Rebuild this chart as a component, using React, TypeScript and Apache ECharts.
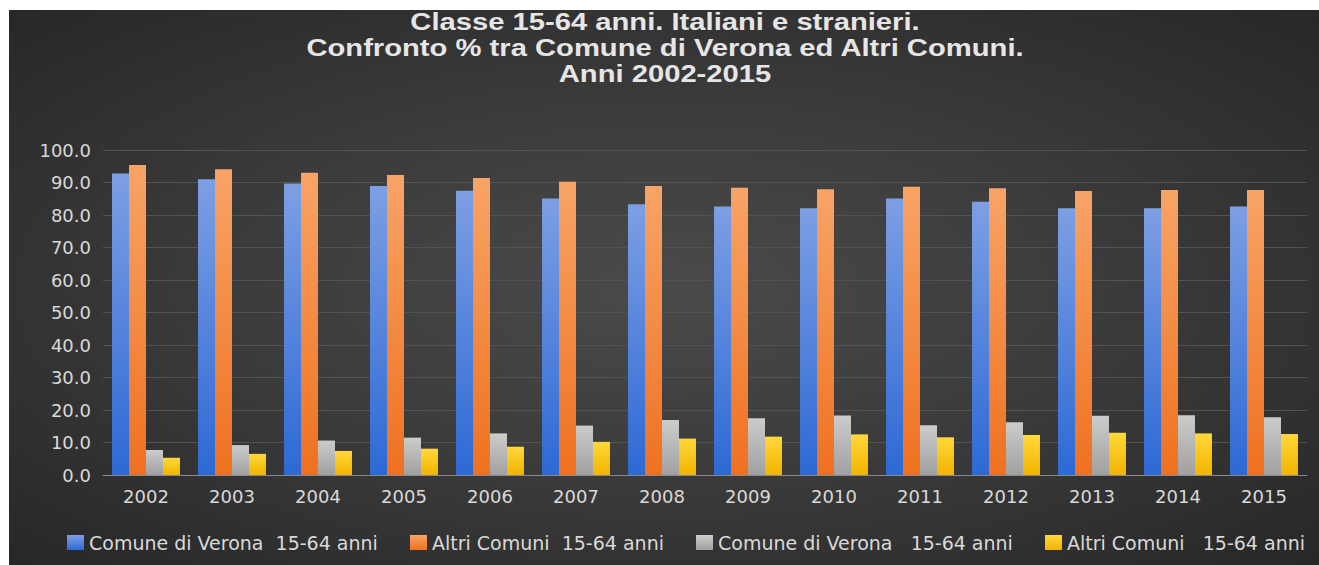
import React, { useEffect, useRef } from "react";
import * as echarts from "echarts";

const years = ["2002","2003","2004","2005","2006","2007","2008","2009","2010","2011","2012","2013","2014","2015"];
const veronaTotal = [92.8, 91.0, 89.7, 88.9, 87.5, 85.1, 83.3, 82.6, 82.1, 85.1, 84.1, 82.1, 82.1, 82.6];
const altriTotal = [95.4, 94.1, 93.0, 92.3, 91.4, 90.2, 88.9, 88.4, 87.9, 88.7, 88.2, 87.4, 87.7, 87.7];
const veronaStranieri = [7.7, 9.2, 10.6, 11.5, 12.8, 15.2, 16.9, 17.5, 18.3, 15.3, 16.2, 18.2, 18.4, 17.8];
const altriStranieri = [5.3, 6.5, 7.4, 8.1, 8.7, 10.2, 11.2, 11.8, 12.5, 11.6, 12.3, 13.0, 12.8, 12.6];
const seriesNames = [
  "Comune di Verona  15-64 anni",
  "Altri Comuni  15-64 anni",
  "Comune di Verona   15-64 anni",
  "Altri Comuni   15-64 anni",
];
const titleLines = [
  "Classe 15-64 anni. Italiani e stranieri.",
  "Confronto % tra Comune di Verona ed Altri Comuni.",
  "Anni 2002-2015",
];

const grad = (top: string, bottom: string) =>
  new echarts.graphic.LinearGradient(0, 0, 0, 1, [
    { offset: 0, color: top },
    { offset: 1, color: bottom },
  ]);

export default function App() {
  const ref = useRef<HTMLDivElement>(null);
  useEffect(() => {
    if (!ref.current) return;
    const chart = echarts.init(ref.current, undefined, { renderer: "svg" });
    const colors = [
      grad("#7d9fe4", "#2d69d5"),
      grad("#f8a466", "#ef7120"),
      grad("#cccccc", "#a0a0a0"),
      grad("#ffd83a", "#f2b400"),
    ];
    const datas = [veronaTotal, altriTotal, veronaStranieri, altriStranieri];
    const legendLefts = [53, 396, 682, 1031];
    const textFont = "DejaVu Sans";
    chart.setOption({
      animation: false,
      backgroundColor: "transparent",
      graphic: titleLines.map((t, i) => ({
        type: "text",
        x: 656,
        y: [12, 38, 64][i],
        scaleX: 1.27,
        style: {
          text: t,
          fill: "#e6e6e6",
          font: "bold 23px 'Liberation Sans', Arial, sans-serif",
          textAlign: "center",
          textVerticalAlign: "middle",
        },
      })),
      grid: { left: 94, right: 12, top: 140, bottom: 90 },
      legend: seriesNames.map((n, i) => ({
        data: [n],
        left: legendLefts[i],
        top: 518,
        itemWidth: 17,
        itemHeight: 15,
        icon: "rect",
        textStyle: { color: "#d9d9d9", fontSize: 19, fontFamily: textFont },
      })),
      xAxis: {
        type: "category",
        data: years,
        axisTick: { show: false },
        axisLine: { lineStyle: { color: "#8a8a8a", width: 1 } },
        axisLabel: { color: "#d9d9d9", fontSize: 18, fontFamily: textFont, margin: 12 },
      },
      yAxis: {
        type: "value",
        min: 0,
        max: 100,
        interval: 10,
        axisLine: { show: false },
        axisTick: { show: false },
        splitLine: { lineStyle: { color: "#525252", width: 1 } },
        axisLabel: {
          color: "#d9d9d9",
          fontSize: 18,
          fontFamily: textFont,
          margin: 12,
          formatter: (v: number) => v.toFixed(1),
        },
      },
      series: datas.map((d, i) => ({
        name: seriesNames[i],
        type: "bar",
        data: d,
        barGap: "0%",
        barCategoryGap: "21%",
        itemStyle: { color: colors[i] },
      })),
    });
    return () => chart.dispose();
  }, []);
  return (
    <div style={{ position: "fixed", left: 0, top: 0, width: 1319, height: 565, background: "#ffffff" }}>
      <div
        style={{
          position: "absolute",
          left: 9,
          top: 10,
          width: 1310,
          height: 555,
          background: "radial-gradient(ellipse at 50% 50%, #4a4a4a 0%, #3c3c3c 45%, #272727 100%)",
        }}
      >
        <div ref={ref} style={{ width: 1310, height: 555 }} />
      </div>
    </div>
  );
}
